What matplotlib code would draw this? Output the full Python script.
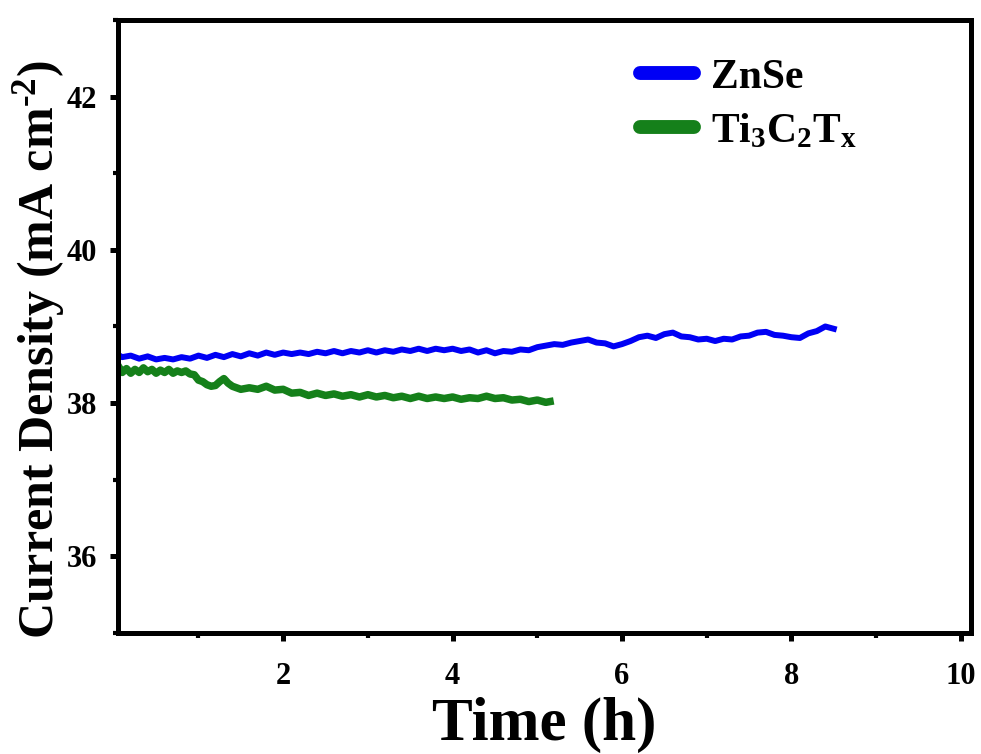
import matplotlib
matplotlib.use("Agg")
import matplotlib.pyplot as plt
from matplotlib.lines import Line2D
from matplotlib.ticker import MultipleLocator

plt.rcParams['font.family'] = ['Liberation Serif', 'DejaVu Serif']
plt.rcParams['font.weight'] = 'bold'
plt.rcParams['mathtext.fontset'] = 'custom'
plt.rcParams['mathtext.rm'] = 'Liberation Serif:bold'
plt.rcParams['mathtext.it'] = 'Liberation Serif:bold'
plt.rcParams['mathtext.bf'] = 'Liberation Serif:bold'

# ---- data ----
znse_t = [0.05, 0.1, 0.2, 0.3, 0.4, 0.5, 0.6, 0.7, 0.8, 0.9,
          1.0, 1.1, 1.2, 1.3, 1.4, 1.5, 1.6, 1.7, 1.8, 1.9,
          2.0, 2.1, 2.2, 2.3, 2.4, 2.5, 2.6, 2.7, 2.8, 2.9,
          3.0, 3.1, 3.2, 3.3, 3.4, 3.5, 3.6, 3.7, 3.8, 3.9,
          4.0, 4.1, 4.2, 4.3, 4.4, 4.5, 4.6, 4.7, 4.8, 4.9,
          5.0, 5.1, 5.2, 5.3, 5.4, 5.5, 5.6, 5.7, 5.8, 5.9,
          6.0, 6.1, 6.2, 6.3, 6.4, 6.5, 6.6, 6.7, 6.8, 6.9,
          7.0, 7.1, 7.2, 7.3, 7.4, 7.5, 7.6, 7.7, 7.8, 7.9,
          8.0, 8.1, 8.2, 8.3, 8.4, 8.5]
znse_j = [38.63, 38.60, 38.62, 38.58, 38.61, 38.57, 38.59, 38.57, 38.60, 38.58,
          38.62, 38.59, 38.63, 38.60, 38.64, 38.61, 38.65, 38.62, 38.66, 38.63,
          38.66, 38.64, 38.66, 38.64, 38.67, 38.65, 38.68, 38.65, 38.68, 38.66,
          38.69, 38.66, 38.69, 38.67, 38.70, 38.68, 38.71, 38.68, 38.71, 38.69,
          38.71, 38.68, 38.70, 38.66, 38.69, 38.65, 38.68, 38.67, 38.70, 38.69,
          38.73, 38.75, 38.77, 38.76, 38.79, 38.81, 38.83, 38.79, 38.78, 38.74,
          38.77, 38.81, 38.86, 38.88, 38.85, 38.90, 38.92, 38.87, 38.86, 38.83,
          38.84, 38.81, 38.84, 38.83, 38.87, 38.88, 38.92, 38.93, 38.89, 38.88,
          38.86, 38.85, 38.91, 38.94, 39.00, 38.97]

ti_t = [0.05, 0.1, 0.15, 0.2, 0.25, 0.3, 0.35, 0.4, 0.45, 0.5,
        0.55, 0.6, 0.65, 0.7, 0.75, 0.8, 0.85, 0.9, 0.95, 1.0,
        1.05, 1.1, 1.15, 1.2, 1.25, 1.3, 1.35, 1.4, 1.5, 1.6, 1.7, 1.8, 1.9,
        2.0, 2.1, 2.2, 2.3, 2.4, 2.5, 2.6, 2.7, 2.8, 2.9,
        3.0, 3.1, 3.2, 3.3, 3.4, 3.5, 3.6, 3.7, 3.8, 3.9,
        4.0, 4.1, 4.2, 4.3, 4.4, 4.5, 4.6, 4.7, 4.8, 4.9,
        5.0, 5.1, 5.15]
ti_j = [38.49, 38.40, 38.45, 38.39, 38.44, 38.40, 38.46, 38.41, 38.44, 38.39,
        38.43, 38.40, 38.44, 38.39, 38.42, 38.40, 38.42, 38.38, 38.37, 38.30,
        38.28, 38.24, 38.22, 38.23, 38.28, 38.32, 38.26, 38.22, 38.18, 38.20, 38.18, 38.22, 38.17,
        38.18, 38.13, 38.14, 38.10, 38.13, 38.10, 38.12, 38.09, 38.11, 38.08,
        38.11, 38.08, 38.10, 38.07, 38.09, 38.06, 38.09, 38.06, 38.08, 38.06,
        38.08, 38.05, 38.07, 38.06, 38.09, 38.06, 38.07, 38.04, 38.05, 38.02,
        38.04, 38.01, 38.02]

labels = ['ZnSe', 'Ti$_3$C$_2$T$_x$']
colors = ['#0000F5', '#15801A']

x_ticks = [2, 4, 6, 8, 10]
y_ticks = [36, 38, 40, 42]

fig = plt.figure(figsize=(9.81, 7.54), dpi=100)
ax = fig.add_axes([0.1203, 0.1605, 0.8695, 0.813])

ax.plot(znse_t, znse_j, color=colors[0], lw=4.3)
ax.plot(ti_t, ti_j, color=colors[1], lw=5.4)

ax.set_xlim(0.05, 10.12)
ax.set_ylim(35, 43)
ax.set_xticks(x_ticks)
ax.set_yticks(y_ticks)
ax.xaxis.set_minor_locator(MultipleLocator(1))
ax.yaxis.set_minor_locator(MultipleLocator(1))

for s in ax.spines.values():
    s.set_linewidth(3.6)
ax.tick_params(which='major', direction='out', length=6, width=3.6, labelsize=22)
ax.tick_params(axis='x', which='major', pad=15)
ax.tick_params(axis='y', which='major', pad=9)
ax.tick_params(which='minor', direction='out', length=3.5, width=3.0)
for lab in ax.get_xticklabels() + ax.get_yticklabels():
    lab.set_fontweight('bold')

ax.set_xlabel('Time (h)', fontsize=44, fontweight='bold', labelpad=4)
ax.set_ylabel('Current Density (mA cm$^{\u2010 2}$)', fontsize=36, fontweight='bold', labelpad=0)
ax.yaxis.label.set_y(0.463)

handles = [Line2D([], [], color=c, lw=10, solid_capstyle='round') for c in colors]
ax.legend(handles, labels, loc='upper left', bbox_to_anchor=(0.578, 0.985),
          frameon=False, handlelength=1.3, handletextpad=0.4,
          labelspacing=0.38, borderpad=0.2, prop={'weight': 'bold', 'size': 30})

fig.savefig('out.png', dpi=100)
